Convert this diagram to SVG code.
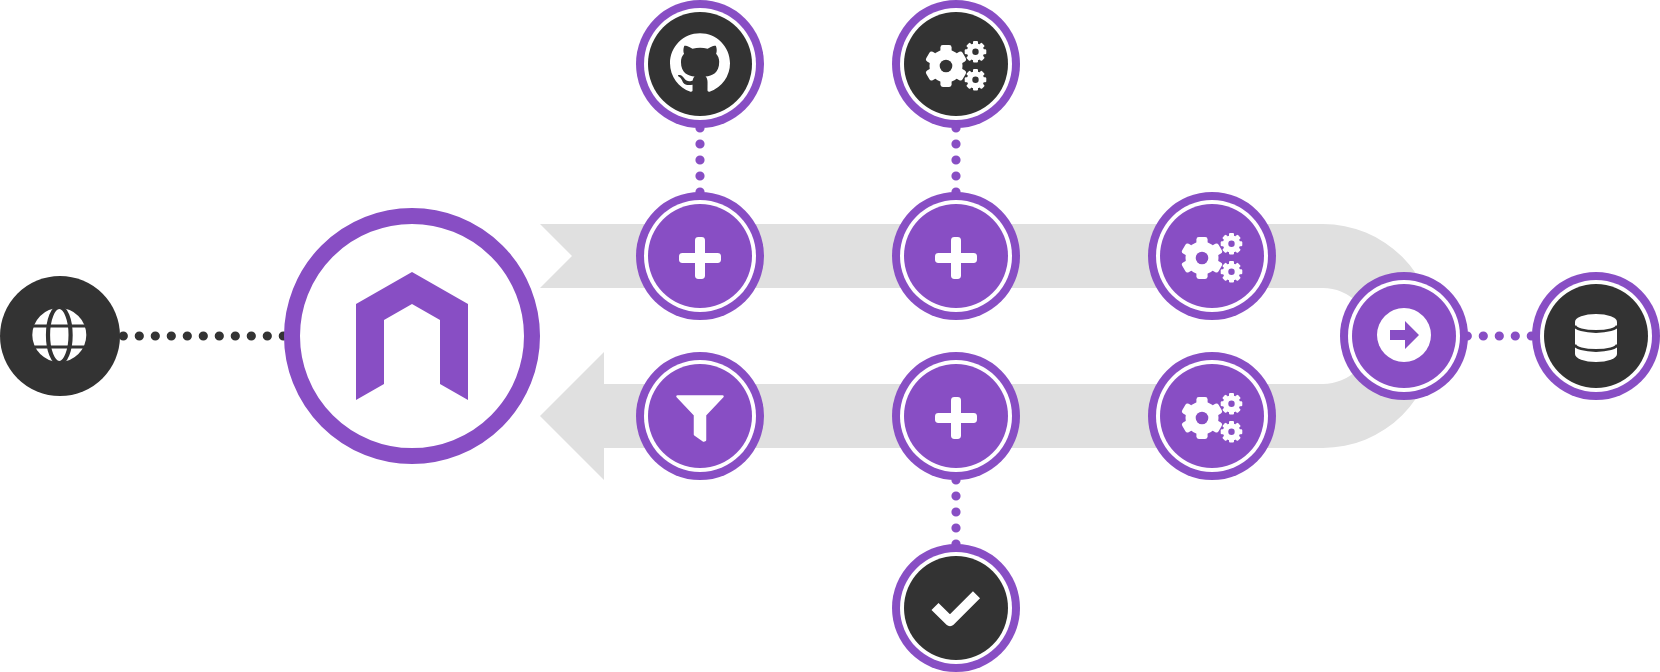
<svg xmlns="http://www.w3.org/2000/svg" width="1660" height="672" viewBox="0 0 1660 672">
<style>
.ring{fill:#884ec4}
.gap{fill:#fff}
.purple{fill:#884ec4;color:#884ec4}
.dark{fill:#333;color:#333}
.dots{fill:none;stroke-width:9.2;stroke-linecap:round;stroke-dasharray:0 16}
.tick{fill:none;stroke:#fff;stroke-width:10;stroke-linejoin:round}
</style>
<defs>
<g id="gear6">
<circle r="16.5" fill="#fff"/>
<rect x="-5.6" y="-21" width="11.2" height="42" rx="2.4" fill="#fff"/>
<rect x="-5.6" y="-21" width="11.2" height="42" rx="2.4" fill="#fff" transform="rotate(60)"/>
<rect x="-5.6" y="-21" width="11.2" height="42" rx="2.4" fill="#fff" transform="rotate(120)"/>
<circle r="6.3" fill="currentColor"/>
</g>
<g id="gear8">
<circle r="8.6" fill="#fff"/>
<rect x="-2.5" y="-10.8" width="5" height="21.6" rx="1.1" fill="#fff"/>
<rect x="-2.5" y="-10.8" width="5" height="21.6" rx="1.1" fill="#fff" transform="rotate(45)"/>
<rect x="-2.5" y="-10.8" width="5" height="21.6" rx="1.1" fill="#fff" transform="rotate(90)"/>
<rect x="-2.5" y="-10.8" width="5" height="21.6" rx="1.1" fill="#fff" transform="rotate(135)"/>
<circle r="3.2" fill="currentColor"/>
</g>
<g id="gears">
<use href="#gear6" x="-10" y="2"/>
<use href="#gear8" x="19.5" y="-12.2"/>
<use href="#gear8" x="19.5" y="15.8"/>
</g>
<g id="plus">
<rect x="-21" y="-5" width="42" height="10" rx="3.4" fill="#fff"/>
<rect x="-5" y="-21" width="10" height="42" rx="3.4" fill="#fff"/>
</g>
<g id="shell">
<circle r="64" class="ring"/>
<circle r="56" class="gap"/>
</g>
</defs>

<path id="flow-band" fill="#e0e0e0" d="M540 224H1323A112 112 0 0 1 1323 448H604V480L540 416L604 352V384H1323A48 48 0 0 0 1323 288H540L572 256Z"/>

<g id="connectors">
<path class="dots" stroke="#333" d="M123.3 336H284"/>
<path class="dots" stroke="#884ec4" d="M700 128V193"/>
<path class="dots" stroke="#884ec4" d="M956 128V193"/>
<path class="dots" stroke="#884ec4" d="M956 480V545"/>
<path class="dots" stroke="#884ec4" d="M1467.3 336H1532"/>
</g>

<g id="node-globe">
<circle cx="60" cy="336" r="60" fill="#333"/>
<circle cx="59.3" cy="335" r="27" fill="#fff"/>
<ellipse cx="59.3" cy="335" rx="11.3" ry="28" fill="none" stroke="#333" stroke-width="4.2"/>
<path d="M30 326H89M30 347H89" stroke="#333" stroke-width="3.2" fill="none"/>
</g>

<g id="node-main">
<circle cx="412" cy="336" r="120" fill="#fff" stroke="#884ec4" stroke-width="16"/>
<path class="purple" d="M356 304L412 272L468 304V400L440 384V320L412 304L384 320V384L356 400Z"/>
</g>

<g id="node-github" transform="translate(700 64)">
<use href="#shell"/>
<circle r="52" class="dark"/>
<path fill="#fff" fill-rule="evenodd" transform="translate(-30 -30.7) scale(3.75)" d="M8 0C3.58 0 0 3.58 0 8c0 3.54 2.29 6.53 5.47 7.59.4.07.55-.17.55-.38 0-.19-.01-.82-.01-1.49-2.01.37-2.53-.49-2.69-.94-.09-.23-.48-.94-.82-1.13-.28-.15-.68-.52-.01-.53.63-.01 1.08.58 1.23.82.72 1.21 1.87.87 2.33.66.07-.52.28-.87.51-1.07-1.78-.2-3.64-.89-3.64-3.95 0-.87.31-1.59.82-2.15-.08-.2-.36-1.02.08-2.12 0 0 .67-.21 2.2.82.64-.18 1.32-.27 2-.27.68 0 1.36.09 2 .27 1.53-1.04 2.2-.82 2.2-.82.44 1.1.16 1.92.08 2.12.51.56.82 1.27.82 2.15 0 3.07-1.87 3.75-3.65 3.95.29.25.54.73.54 1.48 0 1.07-.01 1.93-.01 2.2 0 .21.15.46.55.38A8.013 8.013 0 0016 8c0-4.42-3.58-8-8-8z"/>
</g>

<g id="node-gears-dark" transform="translate(956 64)" color="#333">
<use href="#shell"/>
<circle r="52" class="dark"/>
<use href="#gears"/>
</g>

<g id="node-plus-top-1" transform="translate(700 256)">
<use href="#shell"/>
<circle r="52" class="purple"/>
<use href="#plus" y="2"/>
</g>

<g id="node-plus-top-2" transform="translate(956 256)">
<use href="#shell"/>
<circle r="52" class="purple"/>
<use href="#plus" y="2"/>
</g>

<g id="node-gears-top" transform="translate(1212 256)" color="#884ec4">
<use href="#shell"/>
<circle r="52" class="purple"/>
<use href="#gears"/>
</g>

<g id="node-arrow" transform="translate(1404 336)">
<use href="#shell"/>
<circle r="52" class="purple"/>
<circle cy="-1" r="27" fill="#fff"/>
<path class="purple" d="M-14 -6H1V-15L15 -1L1 13V4H-14Z"/>
</g>

<g id="node-database" transform="translate(1596 336)">
<use href="#shell"/>
<circle r="52" class="dark"/>
<path fill="#fff" d="M-21 -14A21 8 0 0 1 21 -14V18A21 8 0 0 1 -21 18Z"/>
<path fill="none" stroke="#333" stroke-width="2.8" d="M-21 -10.5A21 6 0 0 0 21 -10.5M-21 8.5A21 6 0 0 0 21 8.5"/>
</g>

<g id="node-filter" transform="translate(700 416)">
<use href="#shell"/>
<circle r="52" class="purple"/>
<path fill="#fff" stroke="#fff" stroke-width="2.5" stroke-linejoin="round" d="M-22.5 -19.5H22.5L5 -1V24L3.5 24.5L-5 18.5V-1Z"/>
</g>

<g id="node-plus-bottom" transform="translate(956 416)">
<use href="#shell"/>
<circle r="52" class="purple"/>
<use href="#plus" y="2"/>
</g>

<g id="node-gears-bottom" transform="translate(1212 416)" color="#884ec4">
<use href="#shell"/>
<circle r="52" class="purple"/>
<use href="#gears"/>
</g>

<g id="node-check" transform="translate(956 608)">
<use href="#shell"/>
<circle r="52" class="dark"/>
<path class="tick" d="M-21 -1.5L-6 13.3L20.5 -13.2"/>
</g>
</svg>
